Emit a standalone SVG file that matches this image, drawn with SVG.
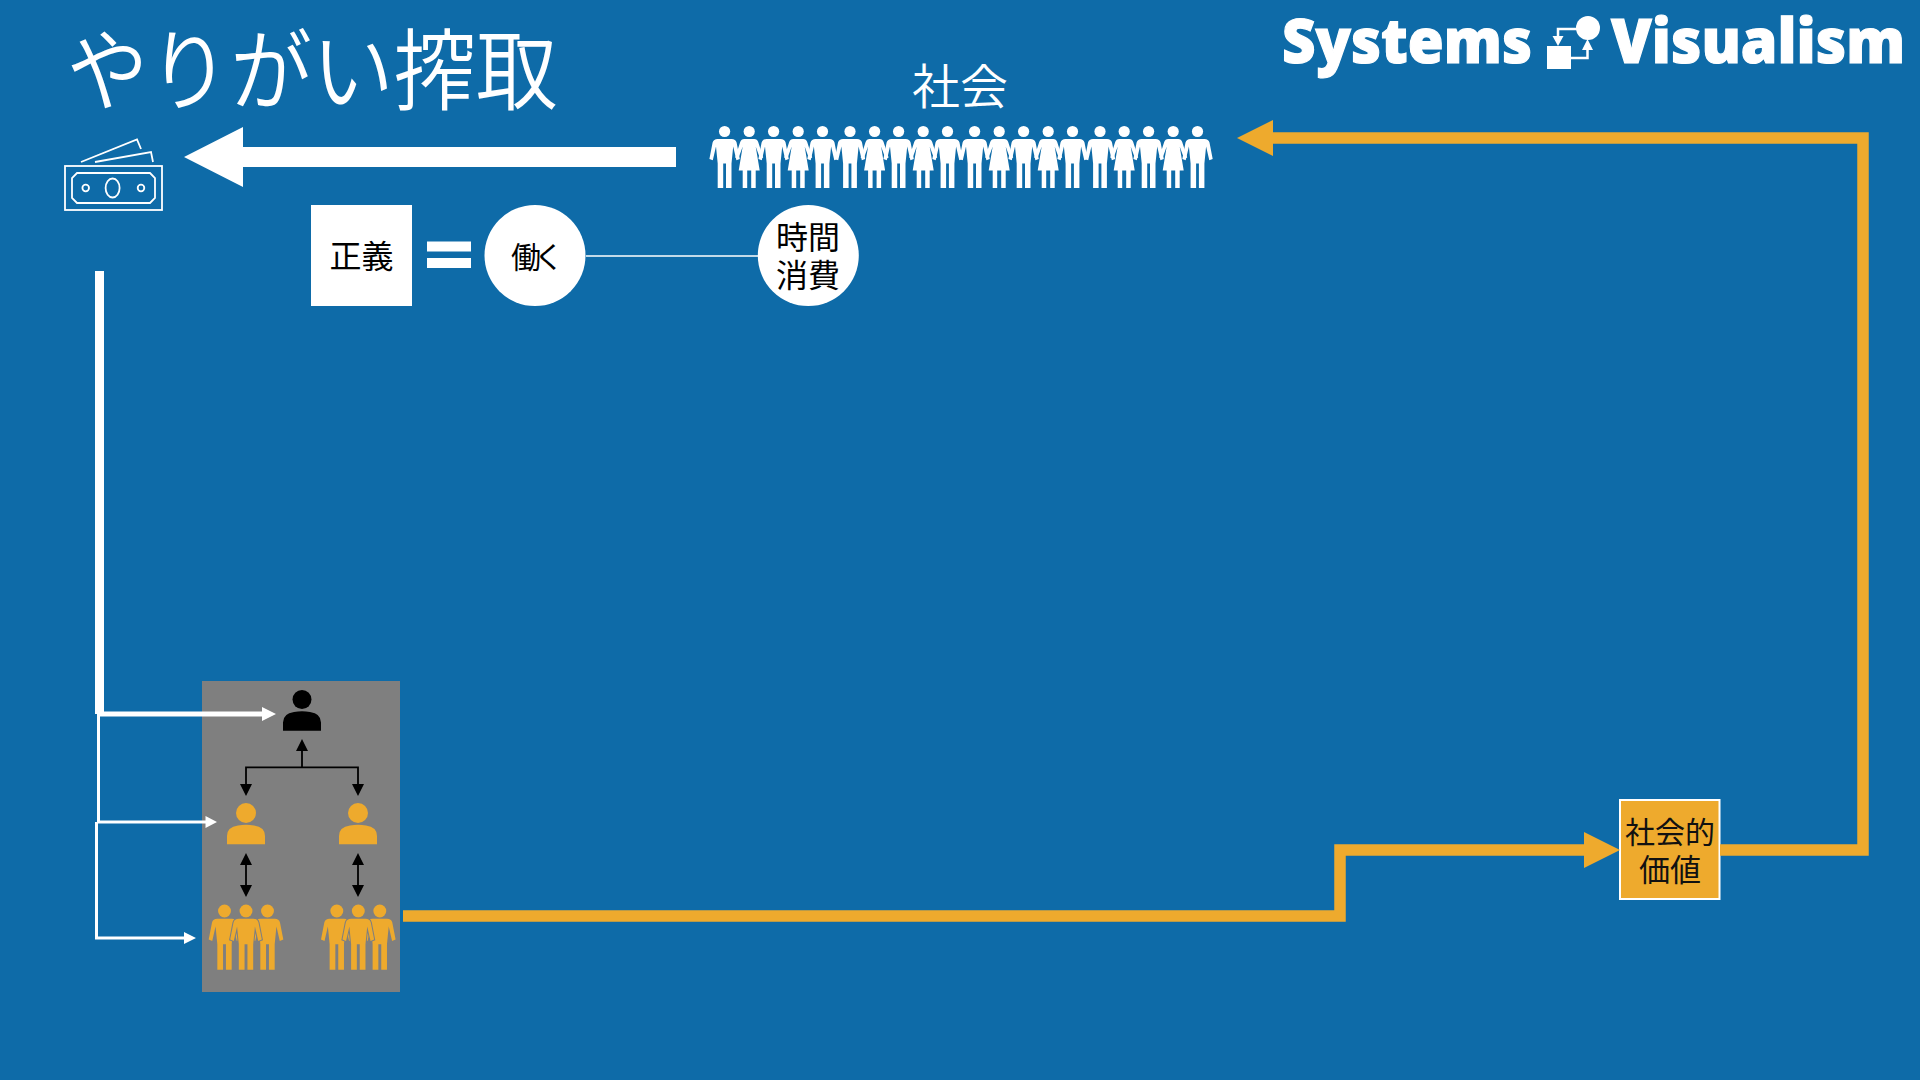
<svg xmlns="http://www.w3.org/2000/svg" xmlns:xlink="http://www.w3.org/1999/xlink" width="1920" height="1080" viewBox="0 0 1920 1080">
<style>
text{font-family:"Noto Sans CJK JP","Noto Sans",sans-serif;text-anchor:middle}
.w{fill:#fff}.o{fill:#EEAA2D}.k{fill:#000}
.t{font-size:32px;fill:#000}
.logo{font-family:"Open Sans","Noto Sans",sans-serif;font-weight:800;font-size:62px;fill:#fff;stroke:#fff;stroke-width:1.2;text-anchor:start}
.ln{fill:none;stroke-linejoin:miter}
</style>
<defs>
<path id="man" d="M-7,7.5H7Q11,7.5 12,11L15.2,27.5L11.8,28.8L8.6,15L6.9,32V56.5H1.4V32H-1.4V56.5H-6.9V32L-8.6,15L-11.8,28.8L-15.2,27.5L-12,11Q-11,7.5 -7,7.5Z"/>
<path id="woman" d="M-5,7.5H5Q8,7.5 9,10.5L14,26L11,27.5L6.5,15L10.5,39H6.5V56.5H2V39H-2V56.5H-6.5V39H-10.5L-6.5,15L-11,27.5L-14,26L-9,10.5Q-8,7.5 -5,7.5Z"/>
<g id="M"><circle r="5.6"/><use xlink:href="#man"/></g>
<g id="W"><circle r="5.6"/><use xlink:href="#woman"/></g>
<path id="bust" d="M-19,19.3V11Q-19,2 -8,0.5Q0,-1 8,0.5Q19,2 19,11V19.3Z"/>
<g id="trio">
<g transform="translate(-21.5,0) scale(1.04)"><circle r="6.2"/><use xlink:href="#man"/></g>
<g transform="translate(21.5,0) scale(1.04)"><circle r="6.2"/><use xlink:href="#man"/></g>
<g transform="scale(1.04)"><circle r="6.2"/><use xlink:href="#man" stroke="#7f7f7f" stroke-width="2" paint-order="stroke"/></g>
</g>
</defs>
<rect width="1920" height="1080" fill="#0E6BA8"/>

<g id="title"><text transform="translate(312,103) scale(.92,1)" font-size="89" font-weight="350" fill="#fff">やりがい搾取</text></g>

<g id="logo">
<text class="logo" x="1282" y="63" textLength="250" lengthAdjust="spacingAndGlyphs">Systems</text>
<text class="logo" x="1611" y="63" textLength="294" lengthAdjust="spacingAndGlyphs">Visualism</text>
<rect class="w" x="1547" y="46" width="24" height="23"/>
<ellipse class="w" cx="1588" cy="28" rx="12" ry="12"/>
<path class="ln" stroke="#fff" stroke-width="2.5" d="M1578,29H1558V38M1570,58H1587.5V49"/>
<path class="w" d="M1552.5,36H1563.5L1558,46ZM1582,50H1593L1587.5,39Z"/>
</g>

<g id="money" fill="none" stroke="#fff" stroke-width="1.8">
<rect x="65" y="166" width="97" height="44"/>
<path d="M77,173H150L155,178V198L150,203H77L72,198V178Z"/>
<ellipse cx="112.6" cy="188" rx="7" ry="9.5"/>
<circle cx="85.7" cy="188" r="3.3"/><circle cx="141" cy="188" r="3.3"/>
<path d="M81,162L137,139.5L141,149M95,162L151,152L153,162"/>
</g>

<g id="society-label"><text x="960" y="104" font-size="48" font-weight="350" fill="#fff">社会</text></g>

<g id="society" fill="#fff">
<use xlink:href="#M" x="724.6" y="131.5"/><use xlink:href="#W" x="749.2" y="131.5"/><use xlink:href="#M" x="773.6" y="131.5"/><use xlink:href="#W" x="798.2" y="131.5"/><use xlink:href="#M" x="822.5" y="131.5"/>
<use xlink:href="#M" x="850" y="131.5"/><use xlink:href="#W" x="874.6" y="131.5"/><use xlink:href="#M" x="898.6" y="131.5"/><use xlink:href="#W" x="923.2" y="131.5"/><use xlink:href="#M" x="947.5" y="131.5"/>
<use xlink:href="#M" x="974.6" y="131.5"/><use xlink:href="#W" x="999.2" y="131.5"/><use xlink:href="#M" x="1023.6" y="131.5"/><use xlink:href="#W" x="1048.2" y="131.5"/><use xlink:href="#M" x="1072.5" y="131.5"/>
<use xlink:href="#M" x="1100" y="131.5"/><use xlink:href="#W" x="1124.2" y="131.5"/><use xlink:href="#M" x="1148.6" y="131.5"/><use xlink:href="#W" x="1173.2" y="131.5"/><use xlink:href="#M" x="1197.5" y="131.5"/>
</g>

<g id="justice"><rect class="w" x="311" y="205" width="101" height="101"/><text class="t" x="361.5" y="268">正義</text></g>
<g id="equals"><rect class="w" x="427" y="241.5" width="44" height="10"/><rect class="w" x="427" y="258" width="44" height="10"/></g>
<g id="work"><circle class="w" cx="535" cy="255.5" r="50.5"/><text class="t" x="511" y="268" letter-spacing="-7" style="font-size:30px;text-anchor:start">働く</text></g>
<g id="time"><circle class="w" cx="808.3" cy="255.5" r="50.5"/><text class="t" x="808" y="249">時間<tspan x="808" dy="38">消費</tspan></text></g>

<g id="org">
<rect id="org-box" x="202" y="681" width="198" height="311" fill="#7f7f7f"/>
<g id="boss" class="k"><circle cx="302" cy="699.5" r="9.5"/><use xlink:href="#bust" x="302" y="711.5"/></g>
<g id="manager-left" class="o"><circle cx="246" cy="813" r="10"/><use xlink:href="#bust" x="246" y="825"/></g>
<g id="manager-right" class="o"><circle cx="358" cy="813" r="10"/><use xlink:href="#bust" x="358" y="825"/></g>
<g id="staff-left" class="o"><use xlink:href="#trio" x="246" y="911"/></g>
<g id="staff-right" class="o"><use xlink:href="#trio" x="358.3" y="911"/></g>
</g>

<g id="value"><rect x="1620" y="800" width="99.5" height="99" fill="#EEAA2D" stroke="#fff" stroke-width="2"/><text x="1670" y="843" font-size="30" fill="#111">社会的<tspan x="1670" dy="38" font-size="31">価値</tspan></text></g>

<g id="connectors">
<path class="w" d="M676,147V167H243V187L184,157L243,127V147Z"/>
<path class="ln" stroke="#fff" stroke-width="1.6" d="M586,256H758"/>
<rect class="w" x="95" y="271" width="9" height="443"/>
<rect class="w" x="100" y="711.5" width="165" height="5"/>
<path class="w" d="M262,707L276,714L262,721Z"/>
<path class="ln" stroke="#fff" stroke-width="3" d="M98.5,714V822H208M96.5,822V938H186"/>
<path class="w" d="M205.5,816L217,822L205.5,828ZM184,932L196,938L184,944Z"/>
<path class="ln" stroke="#000" stroke-width="1.8" d="M302,751V767.3M246,784V767.3H358V784M246,864V886M358,864V886"/>
<path class="k" d="M296,751H308L302,739ZM240,784H252L246,796ZM352,784H364L358,796ZM240,865H252L246,853ZM240,885H252L246,897ZM352,865H364L358,853ZM352,885H364L358,897Z"/>
<path class="ln" stroke="#EEAA2D" stroke-width="11.5" d="M403,916H1340V850H1590"/>
<path class="o" d="M1584,832L1620,850L1584,868Z"/>
<path class="ln" stroke="#EEAA2D" stroke-width="11.5" d="M1720,850H1863V138H1270"/>
<path class="o" d="M1273,120L1237,138L1273,156Z"/>
</g>
</svg>
